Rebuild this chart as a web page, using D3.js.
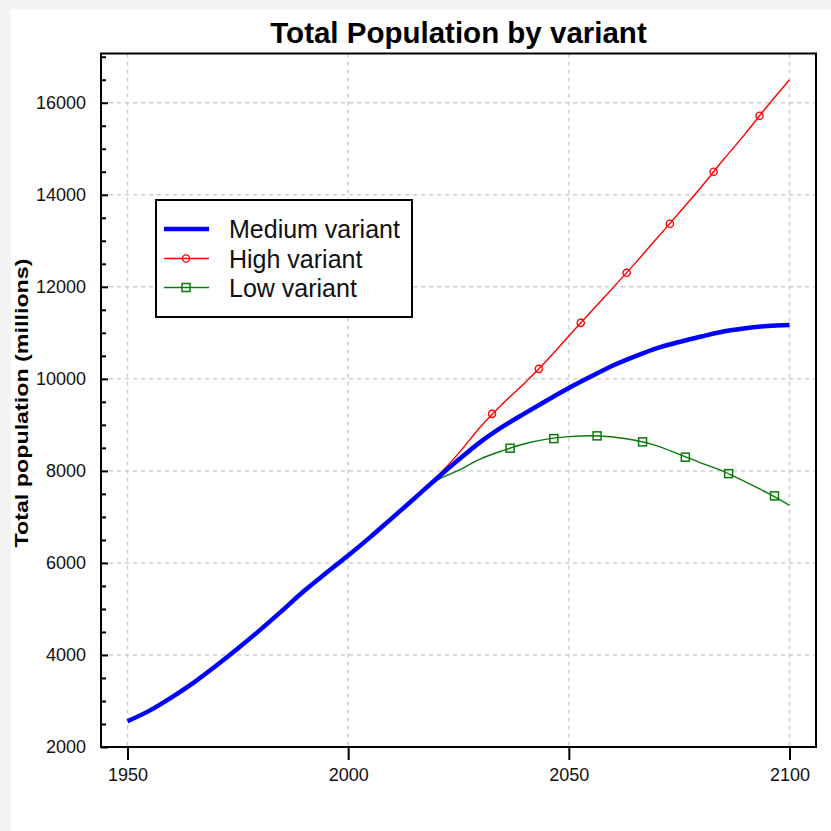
<!DOCTYPE html>
<html><head><meta charset="utf-8">
<script src="https://cdn.jsdelivr.net/npm/d3@7"></script>
<style>html,body{margin:0;padding:0;background:#f4f4f4;} svg{display:block;}</style>
</head><body>
<svg id="c" width="831" height="831"></svg>
<script>
const xTickValues = [1950, 2000, 2050, 2100];
const yTickValues = [2000, 4000, 6000, 8000, 10000, 12000, 14000, 16000];
const medYears = [1950,1955,1960,1965,1970,1975,1980,1985,1990,1995,2000,2005,2010,2015,2020,2025,2030,2035,2040,2045,2050,2055,2060,2065,2070,2075,2080,2085,2090,2095,2100];
const medium = [2560,2790,3080,3400,3760,4140,4540,4960,5390,5780,6160,6560,6980,7400,7830,8240,8630,8960,9250,9530,9800,10050,10290,10490,10670,10800,10920,11030,11100,11150,11170];
const projYears = [2015,2020,2025,2030,2035,2040,2045,2050,2055,2060,2065,2070,2075,2080,2085,2090,2095,2100];
const high = [7400,7860,8380,8960,9460,9910,10400,10930,11460,11980,12510,13060,13610,14170,14760,15330,15930,16500];
const low = [7400,7790,8010,8260,8440,8590,8690,8745,8765,8735,8665,8545,8360,8170,7990,7760,7520,7250];
const highMarkYears = [2032.6,2043.2,2052.7,2063.1,2072.9,2082.8,2093.2];
const highMarkValues = [9239,10217,11217,12304,13370,14500,15717];
const lowMarkYears = [2036.7,2046.6,2056.4,2066.7,2076.4,2086.2,2096.6];
const lowMarkValues = [8493,8702,8761,8630,8298,7941,7457];
const legendLabels = ["Medium variant","High variant","Low variant"];

const svg = d3.select("#c");
svg.append("rect").attr("x",11).attr("y",9).attr("width",820).attr("height",822).attr("fill","#fff");

const L=101, R=816, T=53.5, B=747;
const x = d3.scaleLinear().domain([1944,2106]).range([L,R]);
const y = d3.scaleLinear().domain([2000,17070]).range([B,T]);
const font = "'Liberation Sans', Arial, sans-serif";

// grid
const grid = svg.append("g").attr("stroke","#cfcfcf").attr("stroke-width",1.5).attr("stroke-dasharray","4,4");
grid.selectAll("line.h").data(yTickValues.slice(1)).join("line")
  .attr("x1",L).attr("x2",R).attr("y1",d=>y(d)).attr("y2",d=>y(d));
grid.selectAll("line.v").data(xTickValues).join("line")
  .attr("y1",T).attr("y2",B).attr("x1",d=>x(d)).attr("x2",d=>x(d));

// lines
const line = d3.line().curve(d3.curveMonotoneX).x(d=>x(d[0])).y(d=>y(d[1]));
const green = "#0a7a0a";
svg.append("path").datum(projYears.map((yr,i)=>[yr,low[i]])).attr("d",line)
  .attr("fill","none").attr("stroke",green).attr("stroke-width",1.4);
svg.append("path").datum(projYears.map((yr,i)=>[yr,high[i]])).attr("d",line)
  .attr("fill","none").attr("stroke","#ff0000").attr("stroke-width",1.4);
svg.append("path").datum(medYears.map((yr,i)=>[yr,medium[i]])).attr("d",line)
  .attr("fill","none").attr("stroke","#0000ff").attr("stroke-width",4.5).attr("stroke-linejoin","round");

svg.selectAll("circle.hm").data(highMarkYears.map((yr,i)=>[yr,highMarkValues[i]])).join("circle")
  .attr("cx",d=>x(d[0])).attr("cy",d=>y(d[1])).attr("r",3.6)
  .attr("fill","none").attr("stroke","#ff0000").attr("stroke-width",1.4);
svg.selectAll("rect.lm").data(lowMarkYears.map((yr,i)=>[yr,lowMarkValues[i]])).join("rect")
  .attr("x",d=>x(d[0])-4).attr("y",d=>y(d[1])-4).attr("width",8).attr("height",8)
  .attr("fill","none").attr("stroke",green).attr("stroke-width",1.5);

// frame
svg.append("rect").attr("x",L).attr("y",T).attr("width",R-L).attr("height",B-T)
  .attr("fill","none").attr("stroke","#000").attr("stroke-width",2);

// y axis: inward ticks
const yAxis = d3.axisRight(y).tickValues(d3.range(2000,17001,500)).tickSize(5).tickFormat("");
const ya = svg.append("g").attr("transform",`translate(${L},0)`).call(yAxis);
ya.select(".domain").remove();
ya.selectAll(".tick line").attr("stroke","#000").attr("stroke-width",2)
  .attr("x2",d=>d%2000===0?7:5);
svg.append("g").selectAll("text").data(yTickValues).join("text")
  .attr("x",86).attr("y",d=>y(d)).attr("dy","0.36em").attr("text-anchor","end")
  .attr("font-family",font).attr("font-size",18).attr("fill","#111").text(d=>d);

// x axis
const xAxis = d3.axisBottom(x).tickValues(xTickValues).tickSize(13).tickPadding(8).tickFormat(d3.format("d"));
const xa = svg.append("g").attr("transform",`translate(0,${B})`).call(xAxis);
xa.select(".domain").remove();
xa.selectAll(".tick line").attr("stroke","#000").attr("stroke-width",2);
xa.selectAll(".tick text").attr("font-family",font).attr("font-size",18).attr("fill","#111");

// title
svg.append("text").attr("x",(L+R)/2).attr("y",43).attr("text-anchor","middle")
  .attr("font-family",font).attr("font-weight","bold").attr("font-size",29.5).text("Total Population by variant");
// y label
svg.append("text").attr("transform",`translate(28,403) rotate(-90)`).attr("text-anchor","middle")
  .attr("font-family",font).attr("font-weight","bold").attr("font-size",19)
  .attr("textLength",289).attr("lengthAdjust","spacingAndGlyphs").text("Total population (millions)");

// legend
const lg = svg.append("g");
lg.append("rect").attr("x",156).attr("y",200).attr("width",256).attr("height",117)
  .attr("fill","#fff").attr("stroke","#000").attr("stroke-width",2);
const rowsY = [229,258.5,287.5];
const cols = ["#0000ff","#ff0000",green];
const widths = [4.5,1.4,1.4];
legendLabels.forEach((lab,i)=>{
  lg.append("line").attr("x1",164).attr("x2",209).attr("y1",rowsY[i]).attr("y2",rowsY[i])
    .attr("stroke",cols[i]).attr("stroke-width",widths[i]);
  lg.append("text").attr("x",229).attr("y",rowsY[i]).attr("dy","0.36em")
    .attr("font-family",font).attr("font-size",25).attr("fill","#111").text(lab);
});
lg.append("circle").attr("cx",186).attr("cy",rowsY[1]).attr("r",3.6)
  .attr("fill","none").attr("stroke","#ff0000").attr("stroke-width",1.4);
lg.append("rect").attr("x",182).attr("y",rowsY[2]-4).attr("width",8).attr("height",8)
  .attr("fill","none").attr("stroke",green).attr("stroke-width",1.5);
</script>
</body></html>
